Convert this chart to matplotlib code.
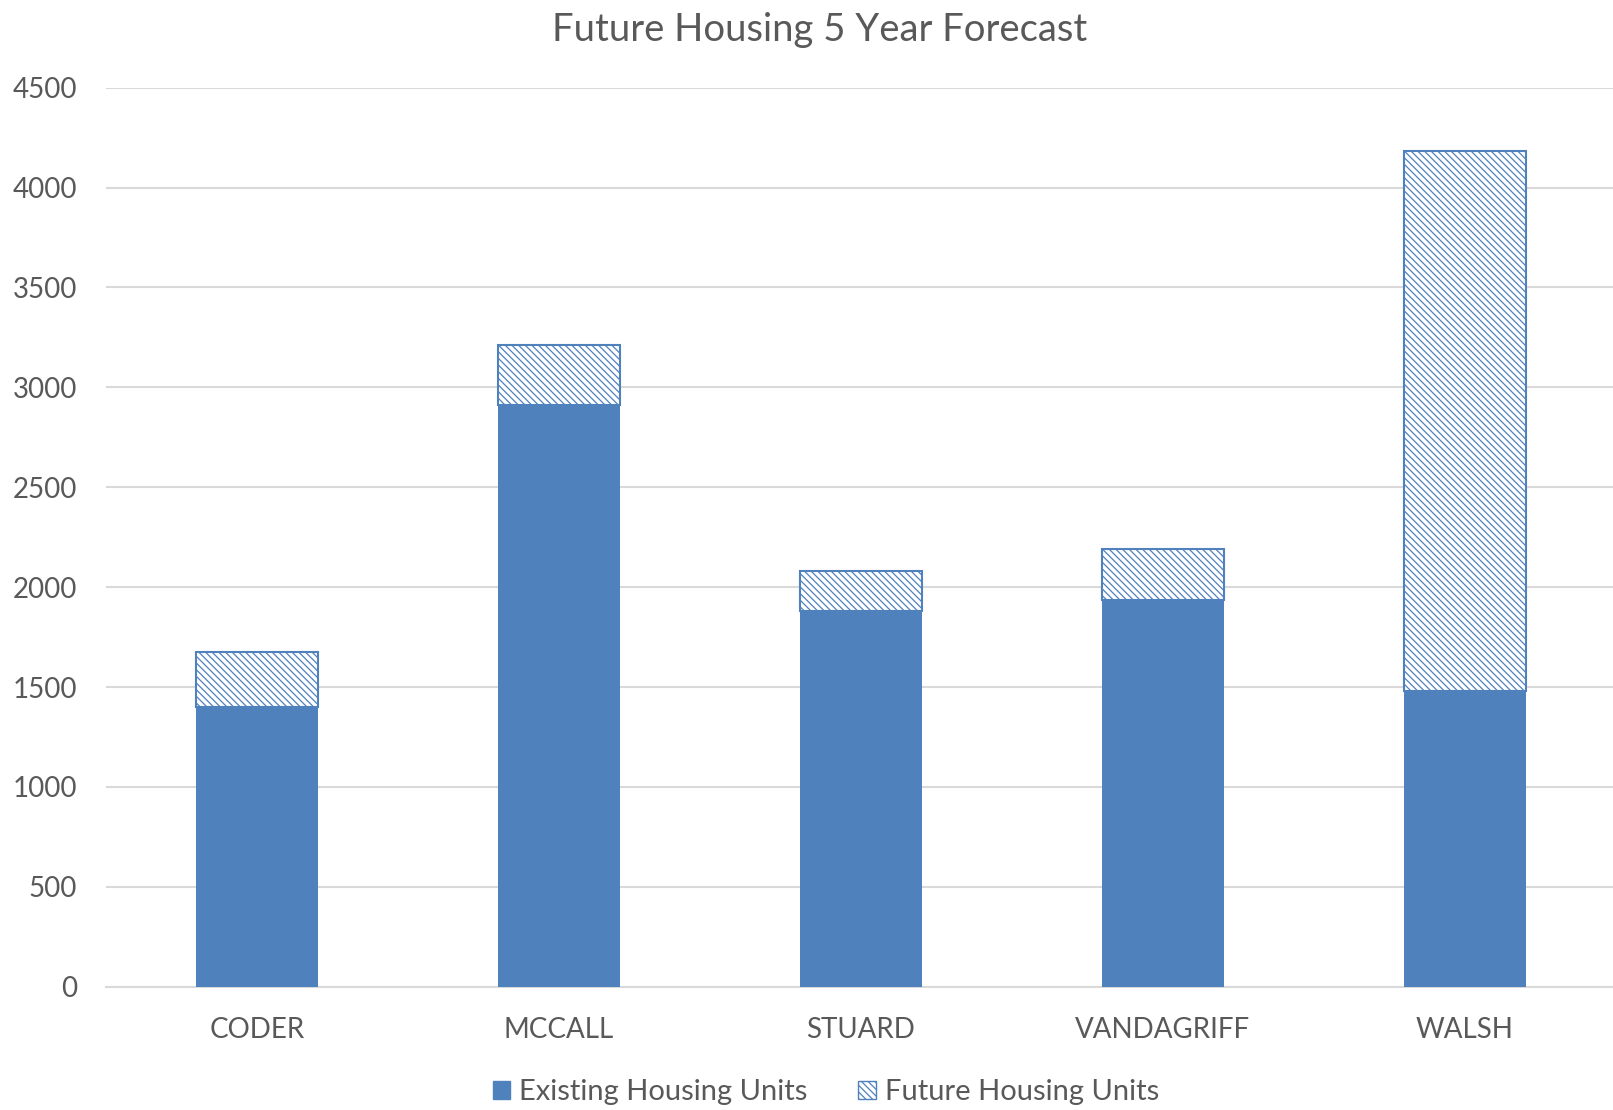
import matplotlib.pyplot as plt
from matplotlib.patches import Patch
import numpy as np

plt.rcParams['font.family'] = ['Lato', 'DejaVu Sans']
plt.rcParams['hatch.linewidth'] = 0.9
plt.rcParams['hatch.color'] = '#4F81BD'

schools = ['CODER', 'MCCALL', 'STUARD', 'VANDAGRIFF', 'WALSH']
existing = [1400, 2910, 1880, 1937, 1482]
future = [277, 300, 201, 256, 2700]

blue = '#4F81BD'
text_col = '#595959'
grid_col = '#D9D9D9'

fig = plt.figure(figsize=(16.13, 11.10), dpi=100)
ax = fig.add_axes([0.0657, 0.111, 0.936, 0.810])

x = np.arange(len(schools))
ax.bar(x, existing, width=0.405, color=blue, zorder=3)
ax.bar(x, future, width=0.405, bottom=existing, facecolor='white',
       edgecolor=blue, hatch='\\\\\\\\\\', linewidth=1.5, zorder=3)

ax.set_xlim(-0.5, 4.5)
ax.set_ylim(0, 4500)
ax.set_yticks(range(0, 4501, 500))
ax.set_xticks(x)
ax.set_xticklabels(schools)
ax.yaxis.grid(True, color=grid_col, linewidth=1.5, zorder=0)
ax.tick_params(axis='both', length=0, labelsize=20, colors=text_col)
ax.tick_params(axis='x', pad=22)
ax.tick_params(axis='y', pad=21)
for s in ['top', 'right', 'left']:
    ax.spines[s].set_visible(False)
ax.spines['bottom'].set_color(grid_col)
ax.spines['bottom'].set_linewidth(1.5)

fig.text(0.508, 0.973, 'Future Housing 5 Year Forecast', ha='center', va='center',
         fontsize=27.5, color=text_col)

handles = [Patch(facecolor=blue, edgecolor=blue),
           Patch(facecolor='white', edgecolor=blue, hatch='\\\\\\\\\\')]
fig.legend(handles, ['Existing Housing Units', 'Future Housing Units'],
           loc='center', bbox_to_anchor=(0.512, 0.016), ncol=2, frameon=False,
           fontsize=21, labelcolor=text_col, handlelength=0.6, handleheight=0.6,
           handletextpad=0.3, columnspacing=1.75)

fig.savefig('out.png', dpi=100)
